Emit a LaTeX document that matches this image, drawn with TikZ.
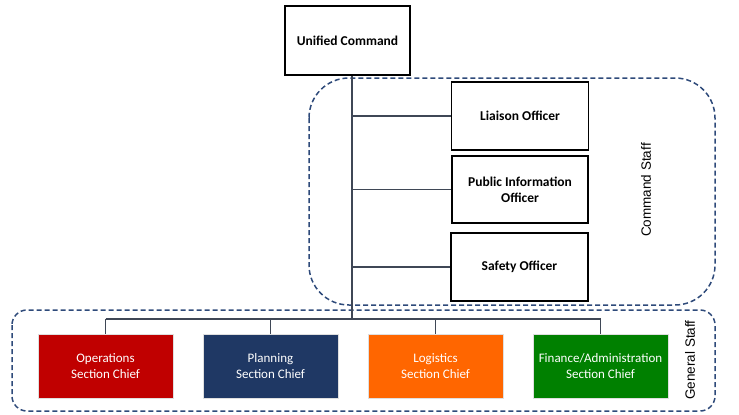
\documentclass[tikz,border=0pt]{standalone}
\usepackage{fontspec}
\setmainfont{Carlito}
\newfontfamily\arialfont{Liberation Sans}
\usetikzlibrary{positioning}

\definecolor{opsred}{HTML}{C00000}
\definecolor{plannavy}{HTML}{1F3864}
\definecolor{logorange}{HTML}{FF6600}
\definecolor{fingreen}{HTML}{008000}
\definecolor{dashblue}{HTML}{2E4A7A}
\definecolor{linegray}{HTML}{3F4756}

\tikzset{
    cmdbox/.style={draw=black, line width=1.6pt, fill=white, align=center,
        font=\fontsize{13.5}{16}\selectfont\bfseries, inner sep=0pt},
    chiefbox/.style={draw=gray!25, line width=1pt, text=white, align=center,
        minimum width=135pt, minimum height=64pt, inner sep=0pt,
        font=\fontsize{13}{15.5}\selectfont},
    staffgroup/.style={draw=dashblue, dashed, line width=1.5pt,
        dash pattern=on 5pt off 3pt},
    grouplabel/.style={rotate=90, font=\arialfont\fontsize{13.5}{15}\selectfont}
}

\begin{document}
\begin{tikzpicture}[x=1pt, y=-1pt]
    \useasboundingbox (0,0) rectangle (739,415);

    % Dashed groups
    \draw[staffgroup, rounded corners=40pt] (309,78) rectangle (715,305);
    \draw[staffgroup, rounded corners=15pt] (12,310) rectangle (715,411);
    \node[grouplabel] (cmdlabel) at (646,190) {Command Staff};
    \node[grouplabel] (genlabel) at (690,360) {General Staff};

    % Top of the chart
    \node[cmdbox, minimum width=125pt, minimum height=69pt] (uc) at (347.5,40.5) {Unified Command};

    % Command staff
    \node[cmdbox, minimum width=137pt, minimum height=68pt] (liaison) at (520,116) {Liaison Officer};
    \node[cmdbox, minimum width=136pt, minimum height=67pt] (pio) at (520,189.5) {Public Information\\Officer};
    \node[cmdbox, minimum width=137pt, minimum height=68pt] (safety) at (519.5,267) {Safety Officer};

    % General staff
    \node[chiefbox, fill=opsred] (ops) at (105.5,366) {Operations\\Section Chief};
    \node[chiefbox, fill=plannavy] (plan) at (270.5,366) {Planning\\Section Chief};
    \node[chiefbox, fill=logorange] (logi) at (435.5,366) {Logistics\\Section Chief};
    \node[chiefbox, fill=fingreen] (fin) at (600.5,366) {Finance/Administration\\Section Chief};

    % Connectors
    \coordinate (bus) at (352,319);
    \draw[linegray, line width=2pt] (uc.south -| bus) -- (bus);
    \foreach \n in {liaison, pio, safety} {
        \draw[linegray, line width=1.5pt] (\n.west -| bus) -- (\n.west);
    }
    \draw[linegray, line width=1.5pt] (ops.north |- bus) -- (fin.north |- bus);
    \foreach \n in {ops, plan, logi, fin} {
        \draw[linegray, line width=1.5pt] (\n.north |- bus) -- (\n.north);
    }
\end{tikzpicture}
\end{document}
